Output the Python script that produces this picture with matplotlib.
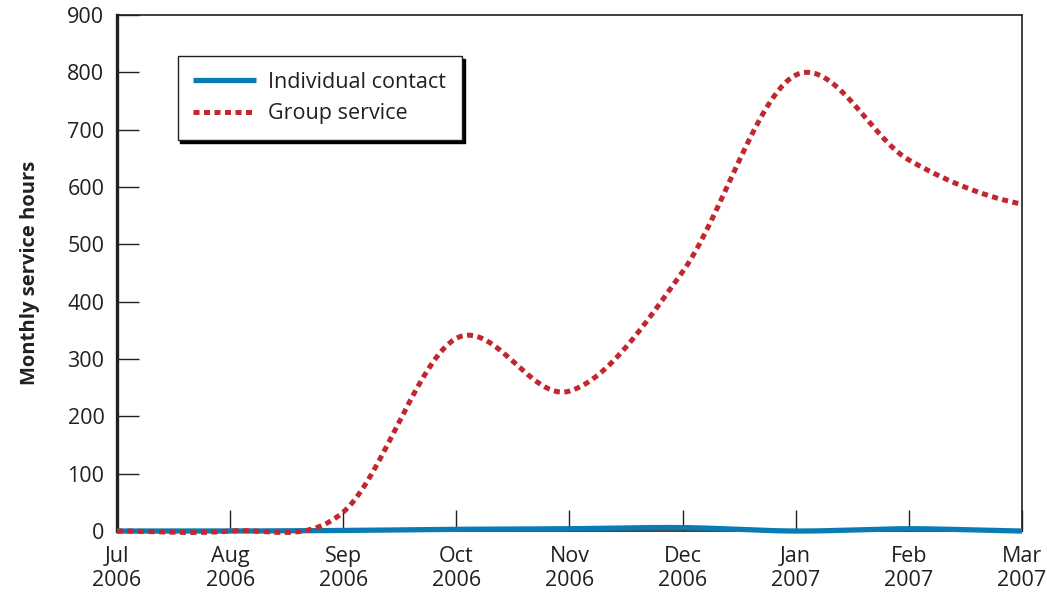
import numpy as np
import matplotlib
matplotlib.use("Agg")
import matplotlib.pyplot as plt

plt.rcParams['font.family'] = ['Open Sans', 'DejaVu Sans']

months = ["Jul\n2006", "Aug\n2006", "Sep\n2006", "Oct\n2006", "Nov\n2006",
          "Dec\n2006", "Jan\n2007", "Feb\n2007", "Mar\n2007"]
individual = [0, 0, 1, 3, 4, 6, 0, 4, 0]
group = [0, 0, 33, 336, 244, 452, 795, 647, 570]


def smooth(y, n=60):
    # Catmull-Rom style smoothing through the points
    y = np.asarray(y, dtype=float)
    k = len(y)
    xs, ys = [], []
    for i in range(k - 1):
        m0 = (y[i + 1] - y[i - 1]) / 2 if i > 0 else (y[i + 1] - y[i]) / 2
        m1 = (y[i + 2] - y[i]) / 2 if i + 2 < k else (y[i + 1] - y[i]) / 2
        t = np.linspace(0, 1, n, endpoint=False)
        h00 = 2 * t**3 - 3 * t**2 + 1
        h10 = t**3 - 2 * t**2 + t
        h01 = -2 * t**3 + 3 * t**2
        h11 = t**3 - t**2
        xs.append(i + t)
        ys.append(h00 * y[i] + h10 * m0 + h01 * y[i + 1] + h11 * m1)
    xs.append([k - 1])
    ys.append([y[-1]])
    return np.concatenate(xs), np.concatenate(ys)


text_col = '#231f20'
fig = plt.figure(figsize=(10.47, 5.94), dpi=100)
ax = fig.add_axes([0.1117, 0.106, 0.8644, 0.869])

xi, yi = smooth(individual)
xg, yg = smooth(group)
ax.plot(xi, yi, color='#0a7bb3', lw=3.8, label='Individual contact',
        clip_on=False, zorder=3, solid_capstyle='butt')
ax.plot(xg, yg, color='#c1272d', lw=3.6, dashes=(1.2, 0.9),
        label='Group service', clip_on=False, zorder=4, dash_capstyle='butt')

ax.set_xlim(0, len(months) - 1)
ax.set_ylim(0, 900)
ax.set_xticks(range(len(months)))
ax.set_xticklabels(months, linespacing=1.15)
ax.set_yticks(range(0, 901, 100))
ax.tick_params(axis='x', direction='in', length=15, width=1, pad=11,
               labelsize=15.5, colors=text_col)
ax.tick_params(axis='y', direction='in', length=16, width=1, pad=9,
               labelsize=15.5, colors=text_col)
for s in ['top', 'right', 'bottom']:
    ax.spines[s].set_linewidth(1.2)
    ax.spines[s].set_color(text_col)
ax.spines['left'].set_linewidth(2.4)
ax.spines['left'].set_color(text_col)

ax.set_ylabel('Monthly service hours', fontsize=14.5, fontweight='bold',
              color=text_col, labelpad=20)

leg = ax.legend(loc='upper left', bbox_to_anchor=(0.067, 0.92), borderaxespad=0,
                fancybox=False, fontsize=15.5, handlelength=2.9,
                handletextpad=0.6, shadow={'color': 'black', 'alpha': 1},
                edgecolor=text_col, framealpha=1, borderpad=0.72,
                labelspacing=0.5)
leg.get_frame().set_linewidth(1.0)
for t in leg.get_texts():
    t.set_color(text_col)

fig.savefig('out.png', dpi=100)
